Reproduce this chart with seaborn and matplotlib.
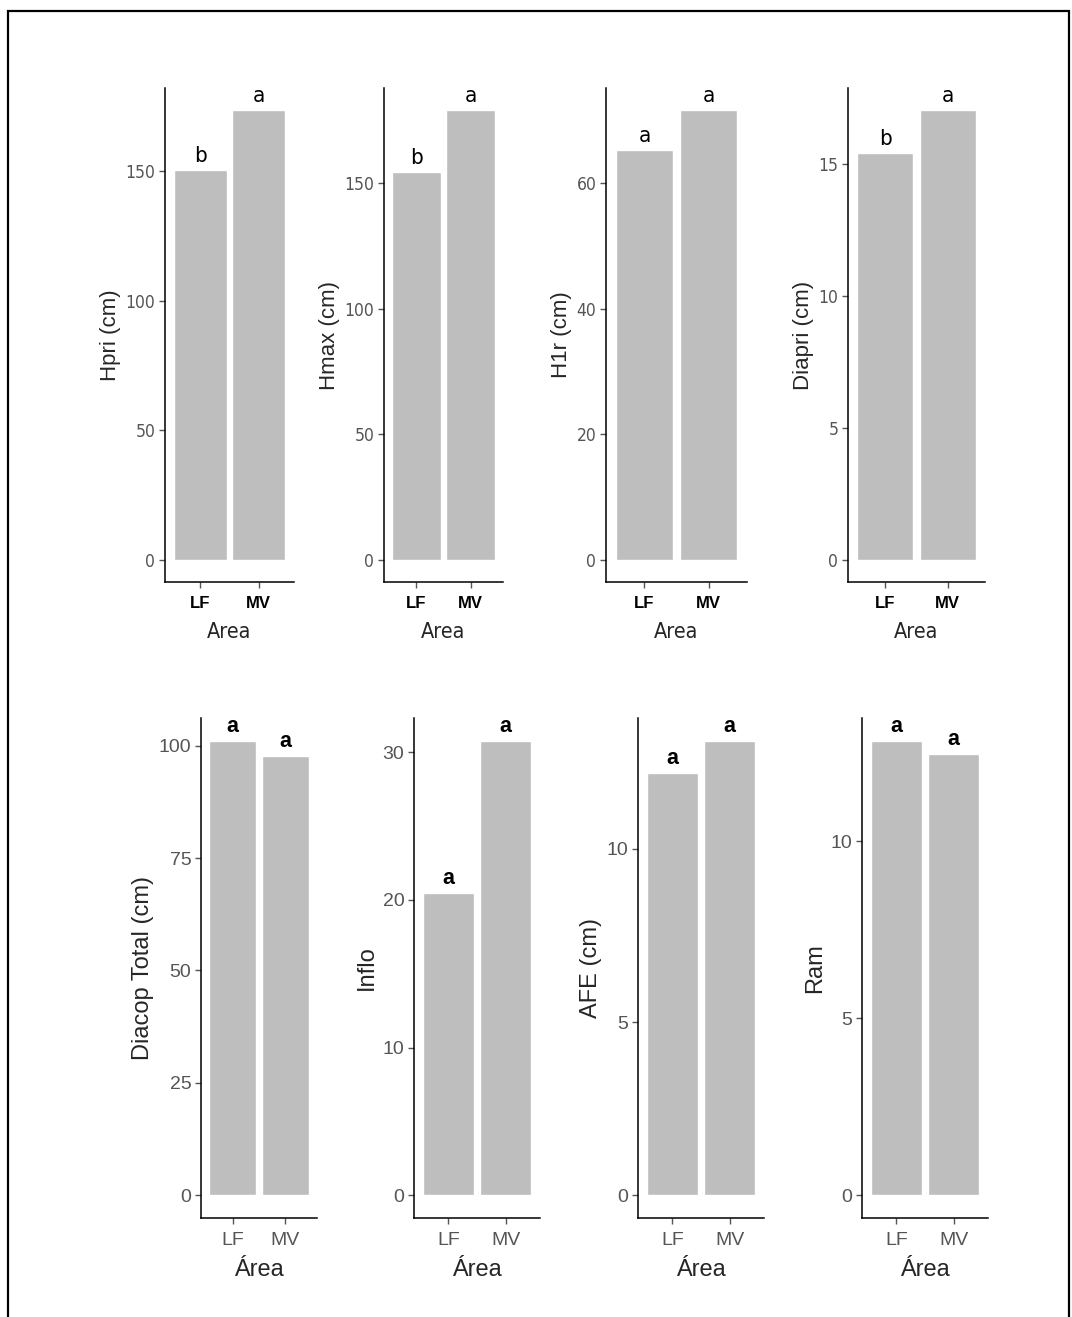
import matplotlib
matplotlib.use("Agg")
import matplotlib.pyplot as plt
import seaborn as sns
import pandas as pd
from matplotlib.ticker import MultipleLocator
from matplotlib.patches import Rectangle

# data
areas = ["LF", "MV"]
hpri = [150.4, 173.4]
hmax = [154.4, 179.1]
h1r = [65.3, 71.6]
diapri = [15.42, 17.04]
diacop = [101.1, 97.7]
inflo = [20.48, 30.78]
afe = [12.18, 13.12]
ram = [12.84, 12.47]

letters_hpri = ["b", "a"]
letters_hmax = ["b", "a"]
letters_h1r = ["a", "a"]
letters_diapri = ["b", "a"]
letters_diacop = ["a", "a"]
letters_inflo = ["a", "a"]
letters_afe = ["a", "a"]
letters_ram = ["a", "a"]

ylabels = ["Hpri (cm)", "Hmax (cm)", "H1r (cm)", "Diapri (cm)",
           "Diacop Total (cm)", "Inflo", "AFE (cm)", "Ram"]
ystep = [50, 50, 20, 5, 25, 10, 5, 5]

series = [hpri, hmax, h1r, diapri, diacop, inflo, afe, ram]
letters = [letters_hpri, letters_hmax, letters_h1r, letters_diapri,
           letters_diacop, letters_inflo, letters_afe, letters_ram]

sns.set_style("white")
plt.rcParams["font.family"] = ["Liberation Sans", "DejaVu Sans"]

W, H = 1072, 1317
fig = plt.figure(figsize=(W / 100, H / 100), dpi=100)

# panel boxes in pixels: left, right, top, bottom
boxes = [
    (165, 294, 88, 582), (384, 503, 88, 582), (606, 747, 88, 582), (848, 985, 88, 582),
    (201, 317, 718, 1218), (414, 540, 718, 1218), (638, 764, 718, 1218), (862, 988, 718, 1218),
]

# condensed face for the upper row, like the narrow font of the original
narrow = dict(family="DejaVu Sans", fontstretch="condensed")

for i, (vals, lets, lab, step, box) in enumerate(zip(series, letters, ylabels, ystep, boxes)):
    l, r, t, b = box
    ax = fig.add_axes([l / W, 1 - b / H, (r - l) / W, (b - t) / H])
    df = pd.DataFrame({"Area": areas, "val": vals})
    sns.barplot(data=df, x="Area", y="val", color="#bebebe", saturation=1,
                width=0.9, ax=ax, errorbar=None)
    top = max(vals)
    ax.set_xlim(-0.6, 1.6)
    ax.set_ylim(-0.05 * top, 1.05 * top)
    ax.yaxis.set_major_locator(MultipleLocator(step))
    for s in ["top", "right"]:
        ax.spines[s].set_visible(False)
    for s in ["left", "bottom"]:
        ax.spines[s].set_color("black")
        ax.spines[s].set_linewidth(1.1)
    ax.tick_params(axis="both", left=True, bottom=True, direction="out",
                   length=4, width=1, color="#555555", pad=3)
    ax.tick_params(axis="x", pad=6)
    toprow = i < 4
    if toprow:
        ax.set_xlabel("Area", fontsize=15.5, labelpad=8, **narrow)
        for tl in ax.get_xticklabels():
            tl.set_fontweight("bold")
            tl.set_fontsize(12)
            tl.set_color("black")
        for tl in ax.get_yticklabels():
            tl.set_family("DejaVu Sans")
            tl.set_fontstretch("condensed")
            tl.set_fontsize(12.5)
            tl.set_color("#555555")
        ax.set_ylabel(lab, fontsize=16, labelpad=3)
        lfont = dict(fontsize=16, fontweight="normal", **narrow)
    else:
        ax.set_xlabel("Área", fontsize=17, labelpad=7)
        for tl in ax.get_xticklabels():
            tl.set_fontsize(14)
            tl.set_color("#555555")
        for tl in ax.get_yticklabels():
            tl.set_fontsize(14)
            tl.set_color("#555555")
        ax.set_ylabel(lab, fontsize=17, labelpad=3)
        lfont = dict(fontsize=15.5, fontweight="bold")
    for j, (v, lt) in enumerate(zip(vals, lets)):
        ax.annotate(lt, (j, v), xytext=(0, 3), textcoords="offset points",
                    ha="center", va="bottom", color="black", annotation_clip=False, **lfont)

# outer frame of the original figure
fig.patches.append(Rectangle((8 / W, -0.05), (1069 - 8) / W, 1.05 - 11 / H,
                             transform=fig.transFigure, fill=False,
                             edgecolor="black", linewidth=1.6))

fig.savefig("out.png", dpi=100)
